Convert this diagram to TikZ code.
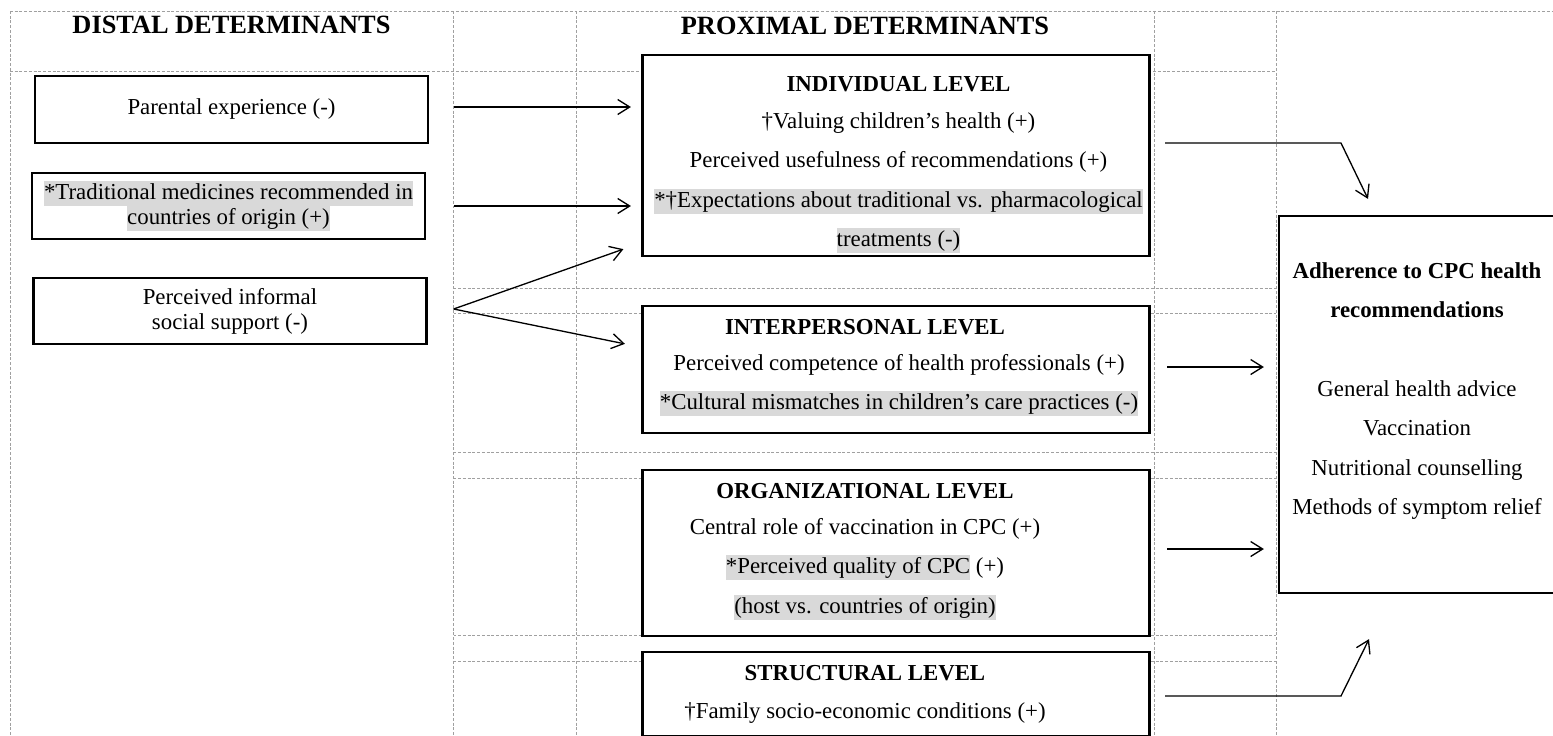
\documentclass[tikz,border=0pt]{standalone}
\usepackage{fontspec}
\setmainfont{Liberation Serif}
\usetikzlibrary{arrows.meta}

\definecolor{gridgray}{RGB}{160,160,160}
\definecolor{hlgray}{RGB}{217,217,217}
\newcommand{\graybg}[1]{{\setlength{\fboxsep}{0pt}\colorbox{hlgray}{\rule[-3.8pt]{0pt}{14.2pt}#1}}}

\begin{document}
\begin{tikzpicture}[x=0.02cm, y=-0.02cm,
  gridline/.style={gridgray, line width=0.5pt, dash pattern=on 1.7pt off 1pt},
  distbox/.style={draw, fill=white, line width=1.3pt, inner sep=0pt, minimum width=7.86cm,
    align=center, font=\fontsize{13}{14.2}\selectfont},
  levelbox/.style={draw, fill=white, line width=1.3pt, inner sep=0pt, minimum width=10.14cm},
  proxtext/.style={align=center, font=\fontsize{13}{22.4}\selectfont},
  headtext/.style={font=\fontsize{15}{18}\selectfont\bfseries},
  leveltext/.style={font=\fontsize{13}{16}\selectfont\bfseries},
  arr/.style={-{Straight Barb[length=0.24cm,width=0.3cm]}, line width=0.75pt}]

  \useasboundingbox (0,0) rectangle (1553,735);
  \clip (0,0) rectangle (1553,735);
  \fill[white] (0,0) rectangle (1553,735);

  % -- Dashed layout grid --
  \draw[gridline] (10,11) -- (1553,11);
  \draw[gridline] (10,71) -- (1276,71);
  \draw[gridline] (10,11) -- (10,735);
  \draw[gridline] (453.5,11) -- (453.5,735);
  \draw[gridline] (576,11) -- (576,735);
  \draw[gridline] (1154,11) -- (1154,735);
  \draw[gridline] (1276,11) -- (1276,735);
  \draw[gridline] (453.5,288) -- (1276,288);
  \draw[gridline] (453.5,313) -- (1276,313);
  \draw[gridline] (453.5,452) -- (1276,452);
  \draw[gridline] (453.5,478) -- (1276,478);
  \draw[gridline] (453.5,635) -- (1276,635);
  \draw[gridline] (453.5,661) -- (1276,661);

  % -- Column headings --
  \node[headtext] (disthead) at (231.5,25) {DISTAL DETERMINANTS};
  \node[headtext] (proxhead) at (865,26) {PROXIMAL DETERMINANTS};

  % -- Distal determinants --
  \node[distbox, minimum height=1.34cm] (parent) at (231.5,109.5) {Parental experience (-)};
  \node[distbox, minimum height=1.32cm] (trad) at (228.5,206)
    {\graybg{*Traditional medicines recommended in}\\ \graybg{countries of origin (+)}};
  \node[distbox, minimum height=1.32cm] (inform) at (230,311) {Perceived informal\\ social support (-)};

  % -- Proximal levels --
  \node[levelbox, minimum height=4.02cm] (indiv) at (896,155.5) {};
  \node[leveltext] (indivhead) at (898.5,84) {INDIVIDUAL LEVEL};
  \node[proxtext] (indivtxt) at (898.5,183) {†Valuing children’s health (+)\\
    Perceived usefulness of recommendations (+)\\
    \graybg{*†Expectations about traditional vs. pharmacological}\\
    \graybg{treatments (-)}};

  \node[levelbox, minimum height=2.54cm] (interp) at (896,369.5) {};
  \node[leveltext] (interphead) at (865,327) {INTERPERSONAL LEVEL};
  \node[proxtext] (interptxt) at (899,385) {Perceived competence of health professionals (+)\\
    \graybg{*Cultural mismatches in children’s care practices (-)}};

  \node[levelbox, minimum height=3.32cm] (org) at (896,553) {};
  \node[leveltext] (orghead) at (865,491) {ORGANIZATIONAL LEVEL};
  \node[proxtext] (orgtxt) at (865,569) {Central role of vaccination in CPC (+)\\
    \graybg{*Perceived quality of CPC} (+)\\
    \graybg{(host vs. countries of origin)}};

  \node[levelbox, minimum height=1.68cm] (struct) at (896,694) {};
  \node[leveltext] (structhead) at (865,673) {STRUCTURAL LEVEL};
  \node[proxtext] (structtxt) at (865,713) {†Family socio-economic conditions (+)};

  % -- Outcome --
  \node[levelbox, minimum width=5.52cm, minimum height=7.54cm] (adh) at (1417,404.5) {};
  \node[proxtext] (adhtxt) at (1417,391) {\textbf{Adherence to CPC health}\\
    \textbf{recommendations}\\[22.4pt]
    General health advice\\ Vaccination\\ Nutritional counselling\\ Methods of symptom relief};

  % -- Distal to proximal arrows --
  \draw[arr, shorten <=0.5cm, shorten >=0.21cm] ([yshift=0.05cm]parent.east) -- ([yshift=0.05cm]parent.east -| indiv.west);
  \draw[arr, shorten <=0.56cm, shorten >=0.21cm] (trad.east) -- (trad.east -| indiv.west);
  \coordinate (fork) at ([xshift=0.52cm, yshift=0.04cm]inform.east);
  \draw[arr] (fork) -- ([xshift=-0.36cm, yshift=0.16cm]indiv.south west);
  \draw[arr] (fork) -- ([xshift=-0.33cm, yshift=-0.78cm]interp.north west);

  % -- Proximal to outcome arrows --
  \coordinate (indivout) at (1165,143);
  \coordinate (indivbend) at (1341,143);
  \draw[arr] (indivout) -- (indivbend) -- ([xshift=-0.98cm, yshift=0.32cm]adh.north);
  \draw[arr, shorten <=0.33cm, shorten >=0.28cm] ([yshift=0.05cm]interp.east) -- ([yshift=0.05cm]interp.east -| adh.west);
  \draw[arr, shorten <=0.33cm, shorten >=0.28cm] ([yshift=0.08cm]org.east) -- ([yshift=0.08cm]org.east -| adh.west);
  \coordinate (structout) at (1165,696);
  \coordinate (structbend) at (1341,696);
  \draw[arr] (structout) -- (structbend) -- ([xshift=-0.96cm, yshift=-0.9cm]adh.south);

\end{tikzpicture}
\end{document}
